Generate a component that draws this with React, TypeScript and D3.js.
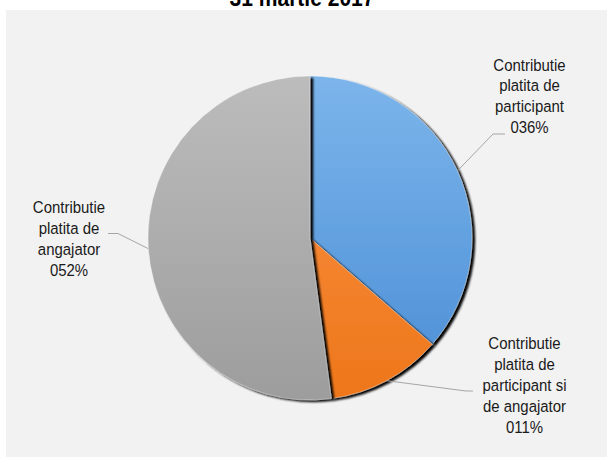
import React from "react";
import * as d3 from "d3";

const title = "31 martie 2017";
const categories = [
  "Contributie platita de participant",
  "Contributie platita de participant si de angajator",
  "Contributie platita de angajator",
];
const values = [36.4, 11.5, 52.1];
const labelLines = [
  ["Contributie", "platita de", "participant", "036%"],
  ["Contributie", "platita de", "participant si", "de angajator", "011%"],
  ["Contributie", "platita de", "angajator", "052%"],
];
const colorTop = ["#7cb5eb", "#fb9448", "#bcbcbc"];
const colorBottom = ["#4a8dd5", "#ee761a", "#9d9d9d"];

const W = 607;
const H = 457;
const CX = 310;
const CY = 238;
const R = 162;

// label layout (center x, first baseline, elbow point, end point)
const labelLayout = [
  { x: 529.5, y: 70.5, elbow: [493, 134], end: [505, 134] },
  { x: 524.5, y: 349, elbow: [466, 391], end: [473, 391] },
  { x: 69, y: 213, elbow: [118, 233.5], end: [108, 233.5] },
];
const LINE_H = 21;

export default function App() {
  const pie = d3
    .pie<number>()
    .sort(null)
    .value((d) => d)
    .startAngle(0)
    .endAngle(2 * Math.PI);
  const arcs = pie(values);
  const arc = d3.arc<d3.PieArcDatum<number>>().innerRadius(0).outerRadius(R);

  const font = "'Liberation Sans', Arial, sans-serif";

  return (
    <svg
      width={W}
      height={H}
      style={{ position: "absolute", left: 0, top: 0, background: "#ffffff" }}
    >
      <defs>
        {categories.map((c, i) => (
          <linearGradient
            key={c}
            id={`g${i}`}
            gradientUnits="userSpaceOnUse"
            x1={0}
            y1={-R}
            x2={0}
            y2={R}
          >
            <stop offset="0%" stopColor={colorTop[i]} />
            <stop offset="100%" stopColor={colorBottom[i]} />
          </linearGradient>
        ))}
        <filter id="shadow" x="-20%" y="-20%" width="140%" height="140%">
          <feGaussianBlur in="SourceAlpha" stdDeviation="1" result="blur" />
          <feOffset in="blur" dx="2.5" dy="2" result="ob" />
          <feComponentTransfer in="ob" result="dark">
            <feFuncA type="linear" slope="1" />
          </feComponentTransfer>
          <feMerge>
            <feMergeNode in="dark" />
            <feMergeNode in="SourceGraphic" />
          </feMerge>
        </filter>
      </defs>
      <rect x={6} y={10} width={W - 6} height={H - 10} fill="#f2f2f2" />
      <text
        transform={`translate(302,6) scale(0.915,1)`}
        textAnchor="middle"
        fontFamily={font}
        fontWeight="bold"
        fontSize={23}
        fill="#000"
      >
        {title}
      </text>
      <g transform={`translate(${CX},${CY})`}>
        {arcs.map((a, i) => (
          <path
            key={categories[i]}
            d={arc(a) || ""}
            fill={`url(#g${i})`}
            stroke="#ffffff"
            strokeOpacity={0.45}
            strokeWidth={0.8}
            filter="url(#shadow)"
          />
        ))}
      </g>
      {arcs.map((a, i) => {
        const mid = (a.startAngle + a.endAngle) / 2;
        const ax = CX + R * Math.sin(mid);
        const ay = CY - R * Math.cos(mid);
        const L = labelLayout[i];
        return (
          <g key={categories[i]}>
            <polyline
              points={`${ax},${ay} ${L.elbow[0]},${L.elbow[1]} ${L.end[0]},${L.end[1]}`}
              fill="none"
              stroke="#a6a6a6"
              strokeWidth={1}
            />
            <text
              transform={`translate(${L.x},${L.y}) scale(0.88,1)`}
              textAnchor="middle"
              fontFamily={font}
              fontSize={17}
              fill="#1a1a1a"
            >
              {labelLines[i].map((t, j) => (
                <tspan key={j} x={0} y={j * LINE_H}>
                  {t}
                </tspan>
              ))}
            </text>
          </g>
        );
      })}
    </svg>
  );
}
